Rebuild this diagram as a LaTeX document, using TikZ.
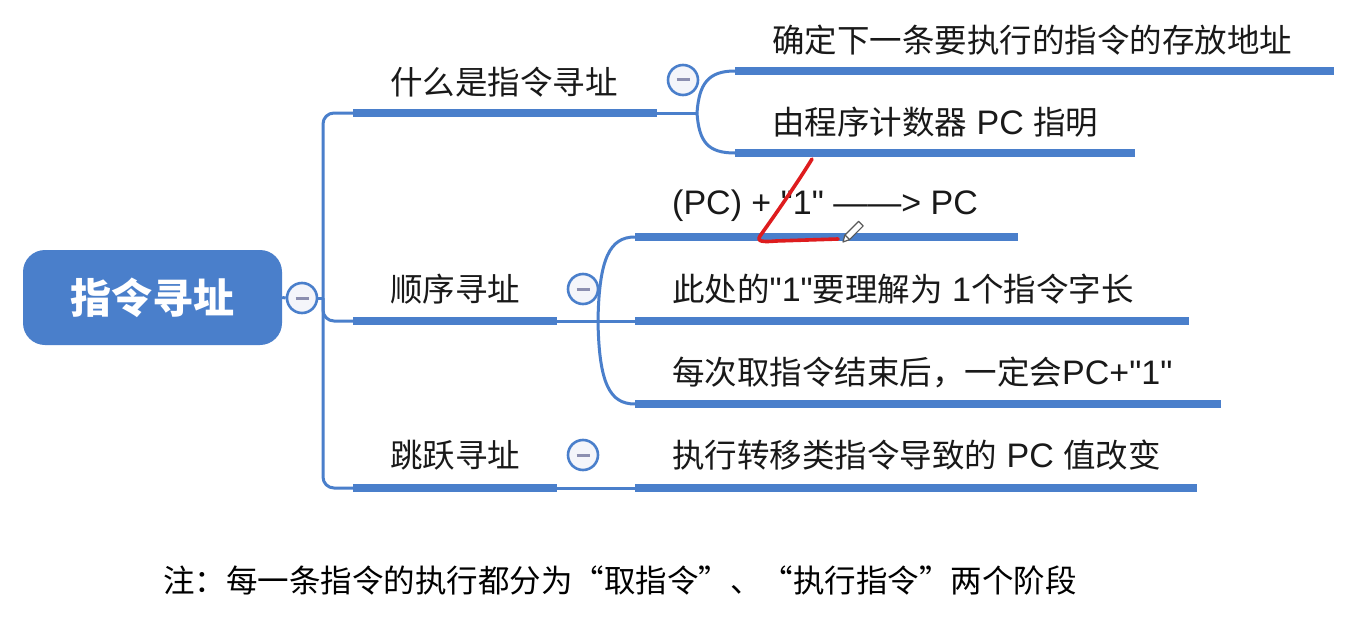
\documentclass[tikz,border=0pt]{standalone}
\usepackage{fontspec}
\setmainfont{Noto Sans CJK SC}
\newfontfamily\cjk{Noto Sans CJK SC}
\newfontfamily\lat{Liberation Sans}
\newcommand\ltn[1]{{\lat\fontsize{34}{34}\selectfont #1}}
\definecolor{mblue}{RGB}{74,127,203}
\definecolor{togfill}{RGB}{244,245,250}
\definecolor{togminus}{RGB}{140,143,176}
\definecolor{txt}{RGB}{25,25,25}
\definecolor{redink}{RGB}{222,28,30}
\tikzset{
  bar/.style={rectangle, fill=mblue, draw=none, minimum height=8.5pt, inner sep=0pt},
  conn/.style={draw=mblue, line width=3pt},
  lbl/.style={anchor=west, inner sep=0pt, text=txt, font=\cjk\fontsize{32.5}{32.5}\selectfont},
  tog/.style={circle, draw=mblue, line width=2.6pt, fill=togfill, minimum size=30pt, inner sep=0pt,
    path picture={\draw[line width=3pt, togminus] ([xshift=-6.5pt]path picture bounding box.center) -- ([xshift=6.5pt]path picture bounding box.center);}},
  rootbox/.style={rectangle, rounded corners=22pt, fill=mblue, minimum width=259pt, minimum height=95pt, inner sep=0pt, text=white, font=\cjk\bfseries\fontsize{41}{41}\selectfont},
  notetext/.style={anchor=west, inner sep=0pt, text=black, font=\cjk\fontsize{31.5}{31.5}\selectfont},
  redstroke/.style={draw=redink, line width=3.6pt, line cap=round, line join=round}
}
\begin{document}
\begin{tikzpicture}[x=1pt,y=-1pt]
\fill[white] (0,0) rectangle (1363,634);
\useasboundingbox (0,0) rectangle (1363,634);

% root
\node[rootbox] (root) at (152.5,297.5) {指令寻址};
\node[tog] (cR) at (302,298) {};
\coordinate (tr) at (323,298);

% level-1 bars and labels
\node[bar, minimum width=304pt] (b1) at (505,113) {};
\node[bar, minimum width=204pt] (b2) at (455,321) {};
\node[bar, minimum width=204pt] (b3) at (455,488) {};
\node[lbl] (l1) at (390,82) {什么是指令寻址};
\node[lbl] (l2) at (390,289) {顺序寻址};
\node[lbl] (l3) at (390,455) {跳跃寻址};
\node[tog] (t1) at (683,80) {};
\node[tog] (t2) at (583,289) {};
\node[tog] (t3) at (583,455) {};

% level-2 bars and labels
\node[bar, minimum width=599pt] (s11) at (1034.5,71) {};
\node[bar, minimum width=400pt] (s12) at (935,153) {};
\node[bar, minimum width=383pt] (s21) at (826.5,237) {};
\node[bar, minimum width=554pt] (s22) at (912,321) {};
\node[bar, minimum width=586pt] (s23) at (928,404) {};
\node[bar, minimum width=562pt] (s31) at (916,488) {};
\node[lbl] (m11) at (772,40) {确定下一条要执行的指令的存放地址};
\node[lbl] (m12) at (772,122) {由程序计数器\ltn{ PC }指明};
\node[lbl] (m21) at (672,206) {\ltn{(PC) + "1" ——> PC}};
\node[lbl] (m22) at (672,289) {此处的\ltn{"1"}要理解为\ltn{ 1}个指令字长};
\node[lbl] (m23) at (672,372) {每次取指令结束后，一定会\ltn{PC+"1"}};
\node[lbl] (m31) at (672,455) {执行转移类指令导致的\ltn{ PC }值改变};

% connectors
\draw[conn] (root.east) -- (cR.west);
\draw[conn] (cR.east) -- (tr);
\draw[conn, rounded corners=11pt] (b1.west) -| (tr) |- (b3.west);
\draw[conn, rounded corners=11pt] (tr) |- (b2.west);

\coordinate (f1) at (697,113);
\draw[conn] (b1.east) -- (f1);
\draw[conn] (f1) .. controls (699,84) and (708,71) .. (s11.west);
\draw[conn] (f1) .. controls (699,142) and (708,153) .. (s12.west);

\coordinate (f2) at (598,321);
\draw[conn] (b2.east) -- (s22.west);
\draw[conn] (f2) .. controls (599,258) and (610,237) .. (s21.west);
\draw[conn] (f2) .. controls (599,384) and (610,404) .. (s23.west);

\draw[conn] (b3.east) -- (s31.west);

% hand-drawn red mark and pencil cursor
\draw[redstroke] (812,159) .. controls (798,182) and (775,215) .. (760,236) .. controls (756,242) and (764,242) .. (776,241) -- (838,239);
\draw[gray!70!black, fill=white, line width=1.2pt, line join=round]
  (843,242) -- (849.5,239.6) -- (863.2,225.9) -- (858.6,221.3) -- (844.9,235) -- cycle;
\draw[gray!70!black, line width=1.2pt] (849.5,239.6) -- (844.9,235);

% note
\node[notetext] (note) at (163,580) {注：每一条指令的执行都分为“取指令”、“执行指令”两个阶段};
\end{tikzpicture}
\end{document}
